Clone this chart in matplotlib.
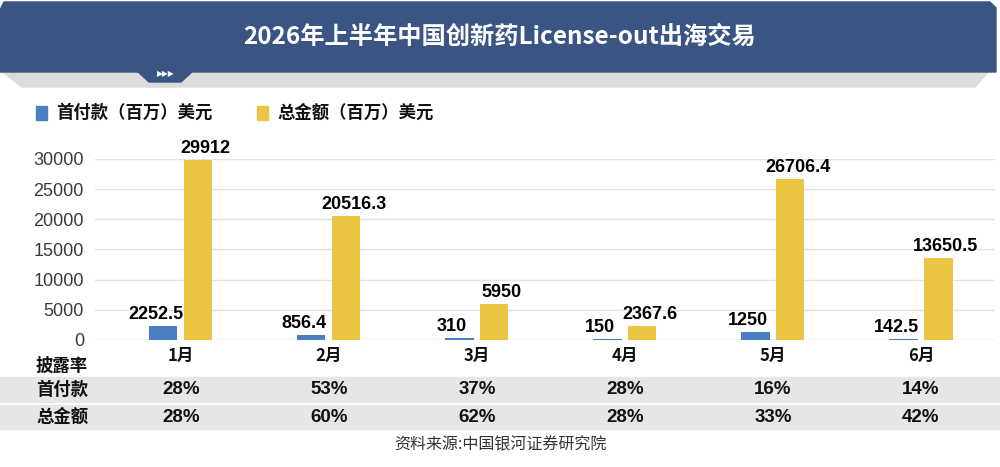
import numpy as np
import matplotlib.pyplot as plt
from matplotlib.patches import Polygon, Rectangle

plt.rcParams['font.family'] = ['Noto Sans CJK SC', 'DejaVu Sans']

# ---------------- data ----------------
months = ["1月", "2月", "3月", "4月", "5月", "6月"]
upfront = [2252.5, 856.4, 310, 150, 1250, 142.5]
total = [29912, 20516.3, 5950, 2367.6, 26706.4, 13650.5]
upfront_labels = ["2252.5", "856.4", "310", "150", "1250", "142.5"]
total_labels = ["29912", "20516.3", "5950", "2367.6", "26706.4", "13650.5"]
rate_upfront = ["28%", "53%", "37%", "28%", "16%", "14%"]
rate_total = ["28%", "60%", "62%", "28%", "33%", "42%"]
yticks = [0, 5000, 10000, 15000, 20000, 25000, 30000]

title = "2026年上半年中国创新药License-out出海交易"
legend_names = ["首付款（百万）美元", "总金额（百万）美元"]
row_names = ["披露率", "首付款", "总金额"]
source = "资料来源:中国银河证券研究院"

BLUE = "#4a7ec2"
YELLOW = "#eac643"
NAVY = "#3a5583"
W, H = 1000, 467
num_font = ["Liberation Sans", "DejaVu Sans"]

fig = plt.figure(figsize=(10, 4.67), dpi=100)


def fx(px):
    return px / W


def fy(py):
    return 1 - py / H


# ---------------- header banner ----------------
shadow = Polygon([(fx(0), fy(70)), (fx(990), fy(70)), (fx(975), fy(87)), (fx(22), fy(87))],
                 closed=True, transform=fig.transFigure, color="#dcdcdc", zorder=1)
fig.patches.append(shadow)
banner = Polygon([(fx(4), fy(2)), (fx(990), fy(2)), (fx(996), fy(8)), (fx(996), fy(72)),
                  (fx(0), fy(72)), (fx(0), fy(10))],
                 closed=True, transform=fig.transFigure, color=NAVY, zorder=2)
fig.patches.append(banner)
tab = Polygon([(fx(136), fy(70)), (fx(194), fy(70)), (fx(181), fy(82)), (fx(149), fy(82))],
              closed=True, transform=fig.transFigure, color=NAVY, zorder=2)
fig.patches.append(tab)
fig.text(fx(166), fy(74), "▶▶▶", color="white", fontsize=5.5, ha="center", va="center",
         family=["DejaVu Sans"], zorder=3)
fig.text(fx(500), fy(37), title, color="white", fontsize=17.5, fontweight="bold",
         ha="center", va="center", zorder=3)

# ---------------- legend ----------------
for x0, name, c in [(36, legend_names[0], BLUE), (257, legend_names[1], YELLOW)]:
    fig.patches.append(Rectangle((fx(x0), fy(120)), fx(11), 14 / H, transform=fig.transFigure,
                                 color=c))
    fig.text(fx(x0 + 20), fy(113), name, fontsize=12.5, fontweight="bold", ha="left",
             va="center", color="#111111")

# ---------------- bars ----------------
ax = fig.add_axes([fx(95), fy(340), fx(995) - fx(95), (340 - 159) / H])
x = np.arange(len(months))
bw = 0.19
off = 0.118
ax.bar(x - off, upfront, bw, color=BLUE, zorder=3)
ax.bar(x + off, total, bw, color=YELLOW, zorder=3)
for i in range(len(months)):
    ax.text(x[i] - off - 0.05, upfront[i] + 500, upfront_labels[i], ha="center", va="bottom",
            fontsize=13, fontweight="bold", family=num_font, clip_on=False)
    ax.text(x[i] + off + 0.05, total[i] + 500, total_labels[i], ha="center", va="bottom",
            fontsize=13, fontweight="bold", family=num_font, clip_on=False)

ax.set_xlim(-0.58, 5.5)
ax.set_ylim(0, 30000)
ax.set_yticks(yticks)
ax.set_yticklabels([str(t) for t in yticks], family=num_font, fontsize=13, color="#3a3a3a")
ax.tick_params(axis="y", length=0, pad=8)
ax.set_xticks([])
ax.grid(axis="y", color="#e2e2e2", linewidth=1, zorder=0)
for s in ax.spines.values():
    s.set_visible(False)
ax.axhline(0, color="#d9d9d9", linewidth=1, zorder=2)

# ---------------- table below ----------------
fig.patches.append(Rectangle((0, fy(402)), 1, 25 / H, transform=fig.transFigure, color="#e6e6e6",
                             zorder=0))
fig.patches.append(Rectangle((0, fy(429)), 1, 24 / H, transform=fig.transFigure, color="#e6e6e6",
                             zorder=0))

for i, m in enumerate(months):
    xf = ax.transData.transform((x[i], 0))[0] / fig.dpi / fig.get_figwidth()
    fig.text(xf, fy(356), m, ha="center", va="center", fontsize=12, fontweight="bold",
             color="#111111")
    fig.text(xf, fy(390), rate_upfront[i], ha="center", va="center", fontsize=13.5,
             fontweight="bold", family=num_font, color="#111111")
    fig.text(xf, fy(417), rate_total[i], ha="center", va="center", fontsize=13.5,
             fontweight="bold", family=num_font, color="#111111")

for name, py in zip(row_names, [366, 390, 417]):
    fig.text(fx(36), fy(py), name, ha="left", va="center", fontsize=12.5, fontweight="bold",
             color="#111111")

fig.text(fx(500), fy(445), source, ha="center", va="center", fontsize=11.5, color="#333333")

fig.savefig("out.png", dpi=100)
